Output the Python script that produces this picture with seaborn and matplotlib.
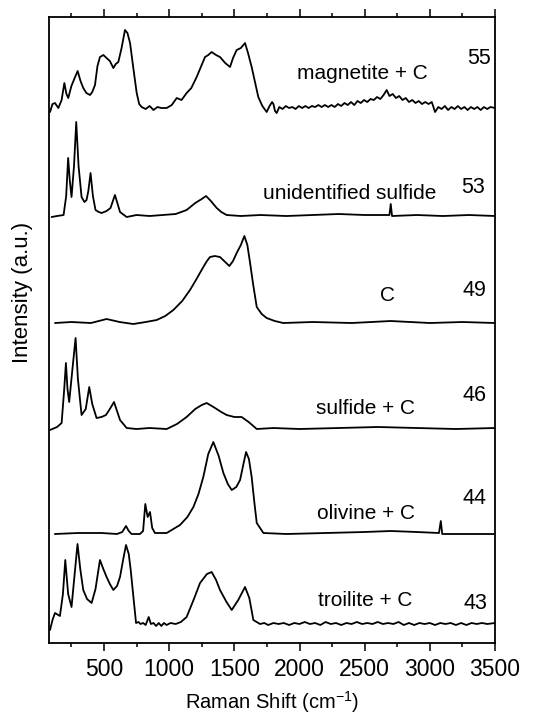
import matplotlib
matplotlib.use("Agg")
import matplotlib.pyplot as plt
import seaborn as sns
import pandas as pd

# spectra: shift (cm-1) and intensity above own baseline (a.u.)
shift1 = [86, 105, 124, 150, 175, 196, 212, 226, 250, 275,
          298, 320, 341, 365, 393, 410, 431, 450, 469, 495,
          520, 545, 572, 590, 610, 635, 661, 680, 700, 725,
          751, 770, 789, 820, 850, 880, 910, 940, 981, 1020,
          1058, 1095, 1134, 1170, 1211, 1240, 1275, 1300, 1326, 1360,
          1390, 1430, 1467, 1490, 1518, 1550, 1582, 1605, 1633, 1660,
          1684, 1715, 1748, 1770, 1790, 1800, 1812, 1825, 1845, 1870,
          1895, 1920, 1945, 1970, 1995, 2020, 2045, 2070, 2095, 2120,
          2145, 2170, 2195, 2220, 2245, 2270, 2295, 2320, 2345, 2370,
          2395, 2420, 2445, 2470, 2495, 2520, 2545, 2570, 2595, 2620,
          2645, 2669, 2690, 2715, 2740, 2765, 2790, 2815, 2840, 2865,
          2890, 2915, 2940, 2965, 2990, 3015, 3040, 3065, 3090, 3115,
          3140, 3165, 3190, 3215, 3240, 3265, 3290, 3315, 3340, 3365,
          3390, 3415, 3440, 3465, 3500]
int1 = [-4, 4, 5, 0, 8, 25, 14, 10, 22, 30,
        37, 27, 20, 15, 13, 16, 23, 42, 51, 53,
        50, 47, 40, 44, 46, 60, 78, 75, 65, 40,
        15, 4, 1, -1, 2, -2, 1, 0, 0, 3,
        10, 8, 15, 20, 31, 40, 51, 53, 56, 53,
        51, 45, 41, 50, 58, 60, 65, 55, 41, 25,
        11, 2, -4, 2, 6, 4, -3, -5, 1, -1,
        2, 0, 1, -1, 2, 0, 2, 0, 2, 1,
        3, 1, 3, 1, 3, 1, 4, 2, 5, 3,
        6, 3, 7, 5, 8, 6, 9, 8, 11, 9,
        13, 18, 12, 14, 10, 12, 8, 10, 6, 8,
        5, 7, 4, 6, 4, 6, -4, 1, -1, 2,
        -2, 1, -1, 2, -1, 1, -2, 1, -1, 1,
        -2, 1, -1, 1, 0]

shift2 = [98, 140, 190, 210, 225, 238, 251, 270, 287, 305,
          328, 350, 366, 380, 397, 415, 435, 460, 481, 520,
          550, 584, 605, 623, 674, 750, 850, 950, 1050, 1134,
          1200, 1250, 1283, 1320, 1365, 1400, 1441, 1550, 1700, 1900,
          2100, 2300, 2500, 2690, 2700, 2710, 2900, 3100, 3300, 3500]
int2 = [-1, 0, 1, 20, 58, 35, 19, 50, 94, 50,
        19, 14, 16, 25, 43, 20, 6, 4, 3, 5,
        8, 21, 12, 4, -1, 1, 0, 1, 2, 6,
        13, 17, 20, 15, 8, 4, 1, 0, 1, 0,
        1, 2, 1, 1, 12, 0, 1, 0, 1, 0]

shift3 = [124, 250, 400, 520, 620, 725, 820, 904, 970, 1032,
          1100, 1160, 1210, 1262, 1290, 1313, 1350, 1390, 1430, 1462,
          1490, 1518, 1550, 1577, 1600, 1621, 1645, 1672, 1710, 1748,
          1810, 1876, 2100, 2400, 2700, 3000, 3250, 3500]
int3 = [0, 1, 0, 4, 1, -1, 1, 3, 7, 13,
        22, 33, 44, 56, 62, 66, 67, 66, 61, 57,
        62, 70, 78, 87, 78, 60, 38, 16, 9, 5,
        2, 0, 1, 0, 2, 0, 1, 0]

shift4 = [86, 140, 175, 195, 208, 220, 233, 258, 282, 300,
          328, 360, 387, 410, 443, 481, 515, 545, 577, 600,
          623, 674, 750, 850, 981, 1060, 1134, 1200, 1250, 1288,
          1340, 1400, 1441, 1500, 1556, 1610, 1672, 1800, 2000, 2300,
          2600, 2900, 3200, 3500]
int4 = [-1, 2, 6, 40, 66, 40, 27, 60, 91, 50,
        14, 20, 42, 25, 11, 12, 14, 20, 27, 18,
        9, 1, 0, 1, 0, 5, 12, 20, 24, 26,
        22, 17, 14, 12, 12, 7, 0, 1, 0, 1,
        2, 1, 0, 1]

shift5 = [123, 300, 481, 600, 640, 669, 690, 712, 776, 800,
          817, 835, 853, 870, 891, 981, 1083, 1140, 1186, 1225,
          1262, 1300, 1339, 1380, 1416, 1450, 1480, 1515, 1544, 1570,
          1590, 1612, 1633, 1655, 1672, 1723, 1900, 2200, 2500, 2700,
          2900, 3070, 3084, 3095, 3300, 3500]
int5 = [0, 1, 1, 0, 2, 8, 3, 0, 0, 3,
        30, 17, 22, 6, 1, 1, 9, 17, 27, 40,
        57, 80, 92, 78, 61, 50, 44, 47, 54, 70,
        82, 75, 57, 30, 11, 1, 0, 1, 2, 3,
        2, 1, 13, 0, 0, 0]

shift6 = [86, 105, 124, 162, 185, 203, 225, 251, 275, 297,
          318, 341, 370, 405, 435, 469, 495, 520, 545, 572,
          600, 623, 648, 669, 690, 705, 725, 746, 765, 780,
          800, 820, 843, 860, 880, 900, 920, 940, 960, 981,
          1010, 1050, 1090, 1134, 1190, 1237, 1290, 1326, 1360, 1390,
          1440, 1480, 1530, 1582, 1615, 1646, 1697, 1730, 1760, 1800,
          1840, 1880, 1920, 1960, 2000, 2040, 2080, 2120, 2160, 2200,
          2240, 2280, 2320, 2360, 2400, 2440, 2480, 2520, 2560, 2600,
          2640, 2680, 2720, 2760, 2800, 2840, 2880, 2920, 2960, 3000,
          3040, 3080, 3120, 3160, 3200, 3240, 3280, 3320, 3360, 3400,
          3440, 3500]
int6 = [-6, 4, 11, 8, 30, 64, 30, 17, 50, 80,
        55, 34, 25, 21, 35, 64, 55, 47, 40, 34,
        38, 47, 65, 79, 70, 54, 28, 1, 2, 0,
        1, -1, 7, 0, 1, -2, 1, -2, 1, -1,
        1, 0, 2, 7, 25, 41, 50, 52, 44, 34,
        22, 14, 24, 37, 26, 4, 0, 1, -1, 1,
        0, 1, -1, 1, 0, 2, 0, 1, -1, 2,
        0, 1, -1, 1, 0, 2, 0, 1, 0, 2,
        0, 1, 0, 2, -1, 1, -1, 1, 0, 1,
        -1, 1, 0, 1, -1, 1, -1, 1, 0, 1,
        0, 1]

shifts = [shift1, shift2, shift3, shift4, shift5, shift6]
intensities = [int1, int2, int3, int4, int5, int6]
offsets = [535, 427, 320, 214, 109, 19]
names = ["magnetite + C", "unidentified sulfide", "C", "sulfide + C", "olivine + C", "troilite + C"]
numbers = ["55", "53", "49", "46", "44", "43"]

sns.set_style("ticks")
plt.rcParams['font.family'] = ['Liberation Sans', 'DejaVu Sans']
plt.rcParams['mathtext.default'] = 'regular'
plt.rcParams['text.color'] = 'black'
plt.rcParams['axes.labelcolor'] = 'black'

fig = plt.figure(figsize=(5.4, 7.15), dpi=100)
ax = fig.add_axes([0.0907, 0.1007, 0.8260, 0.8755])

for i in range(len(shifts)):
    df = pd.DataFrame({"shift": shifts[i],
                       "y": [v + offsets[i] for v in intensities[i]]})
    sns.lineplot(data=df, x="shift", y="y", color="black", linewidth=1.3,
                 estimator=None, ax=ax)

# labels
label_x = [2480, 2388, 2672, 2503, 2511, 2503]
label_y = [570, 450, 348, 235, 130, 43]
num_x = [3378, 3332, 3340, 3340, 3340, 3347]
num_y = [585, 456, 353, 248, 145, 40]
for i in range(len(names)):
    ax.text(label_x[i], label_y[i], names[i], ha="center", va="center",
            fontsize=15, color="black")
    ax.text(num_x[i], num_y[i], numbers[i], ha="center", va="center",
            fontsize=15.5, color="black")

ax.set_xlim(78, 3500)
ax.set_ylim(0, 626)
ax.set_xticks(range(500, 3501, 500))
ax.set_xticks(range(250, 3500, 500), minor=True)
ax.set_yticks([])
ax.tick_params(axis="x", which="both", direction="out", top=True, bottom=True,
               labelsize=16.5, width=1.1, colors="black", pad=5)
ax.tick_params(axis="x", which="major", length=6)
ax.tick_params(axis="x", which="minor", length=3)
for s in ax.spines.values():
    s.set_visible(True)
    s.set_linewidth(1.3)
    s.set_color("black")

ax.set_xlabel("Raman Shift (cm$^{-1}$)", fontsize=14.5, va="center", color="black")
ax.set_ylabel("Intensity (a.u.)", fontsize=16, color="black")
ax.xaxis.set_label_coords(0.5, -0.094)
ax.yaxis.set_label_coords(-0.036, 0.56)

fig.savefig("out.png", dpi=100)
